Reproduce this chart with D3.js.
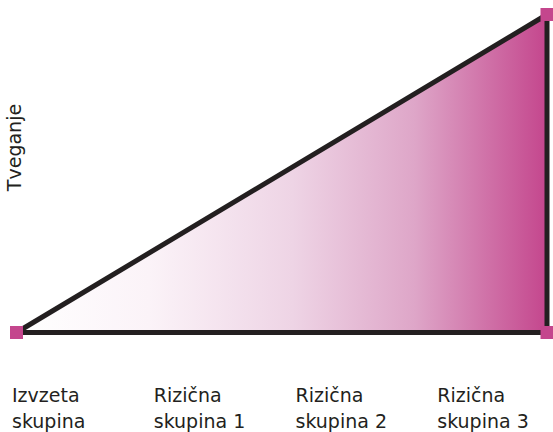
<!DOCTYPE html>
<html>
<head>
<meta charset="utf-8">
<script src="https://cdn.jsdelivr.net/npm/d3@7"></script>
<style>
  body { margin: 0; background: #fff; }
  svg text { font-family: "DejaVu Sans", sans-serif; fill: #231f20; }
</style>
</head>
<body>
<div id="chart"></div>
<script>
// categories along the bottom (two lines each)
var groups = ["Izvzeta skupina", "Rizična skupina 1", "Rizična skupina 2", "Rizična skupina 3"];
var groupLine1 = ["Izvzeta", "Rizična", "Rizična", "Rizična"];
var groupLine2 = ["skupina", "skupina 1", "skupina 2", "skupina 3"];

// corners of the risk triangle (x: position along groups, y: risk level)
var cornerX = [0, 1, 1];
var cornerY = [0, 1, 0];

var yLabel = "Tveganje";

var width = 553, height = 432;
var pink = "#c4468d", ink = "#231f20";

var svg = d3.select("#chart")
  .append("svg")
    .attr("width", width)
    .attr("height", height);

var x = d3.scaleLinear().domain([0, 1]).range([16.5, 547]);
var y = d3.scaleLinear().domain([0, 1]).range([332.5, 14.5]);

var band = d3.scaleBand()
  .domain(groups)
  .range([12, 579]);

var pts = cornerX.map(function(d, i) { return {x: d, y: cornerY[i]}; });

// gradient: white on the left, magenta on the right
var defs = svg.append("defs");
var grad = defs.append("linearGradient")
  .attr("id", "fade")
  .attr("gradientUnits", "userSpaceOnUse")
  .attr("x1", x(0)).attr("x2", x(1))
  .attr("y1", 0).attr("y2", 0);
grad.append("stop").attr("offset", "0%").attr("stop-color", "#ffffff");
grad.append("stop").attr("offset", "25%").attr("stop-color", "#fbf3f8");
grad.append("stop").attr("offset", "52%").attr("stop-color", "#eed4e5");
grad.append("stop").attr("offset", "75%").attr("stop-color", "#dea6c8");
grad.append("stop").attr("offset", "100%").attr("stop-color", pink);

var line = d3.line()
  .x(function(d) { return x(d.x); })
  .y(function(d) { return y(d.y); });

svg.append("path")
  .datum(pts)
  .attr("d", line.curve(d3.curveLinearClosed))
  .attr("fill", "url(#fade)")
  .attr("stroke", ink)
  .attr("stroke-width", 5)
  .attr("stroke-linejoin", "bevel");

// corner markers
svg.selectAll("rect.mark")
  .data(pts)
  .enter()
  .append("rect")
    .attr("class", "mark")
    .attr("x", function(d) { return x(d.x) - 6.5; })
    .attr("y", function(d) { return y(d.y) - 6.5; })
    .attr("width", 13)
    .attr("height", 13)
    .attr("fill", pink);

// group labels
var lab = svg.selectAll("text.grp")
  .data(groups)
  .enter()
  .append("text")
    .attr("class", "grp")
    .attr("font-size", 19)
    .attr("x", function(d) { return band(d); })
    .attr("y", 402);
lab.append("tspan")
  .attr("x", function(d) { return band(d); })
  .text(function(d, i) { return groupLine1[i]; });
lab.append("tspan")
  .attr("x", function(d) { return band(d); })
  .attr("dy", 26)
  .text(function(d, i) { return groupLine2[i]; });

// y label
svg.append("text")
  .attr("font-size", 19)
  .attr("text-anchor", "middle")
  .attr("transform", "translate(21,147.5) rotate(-90)")
  .text(yLabel);
</script>
</body>
</html>
